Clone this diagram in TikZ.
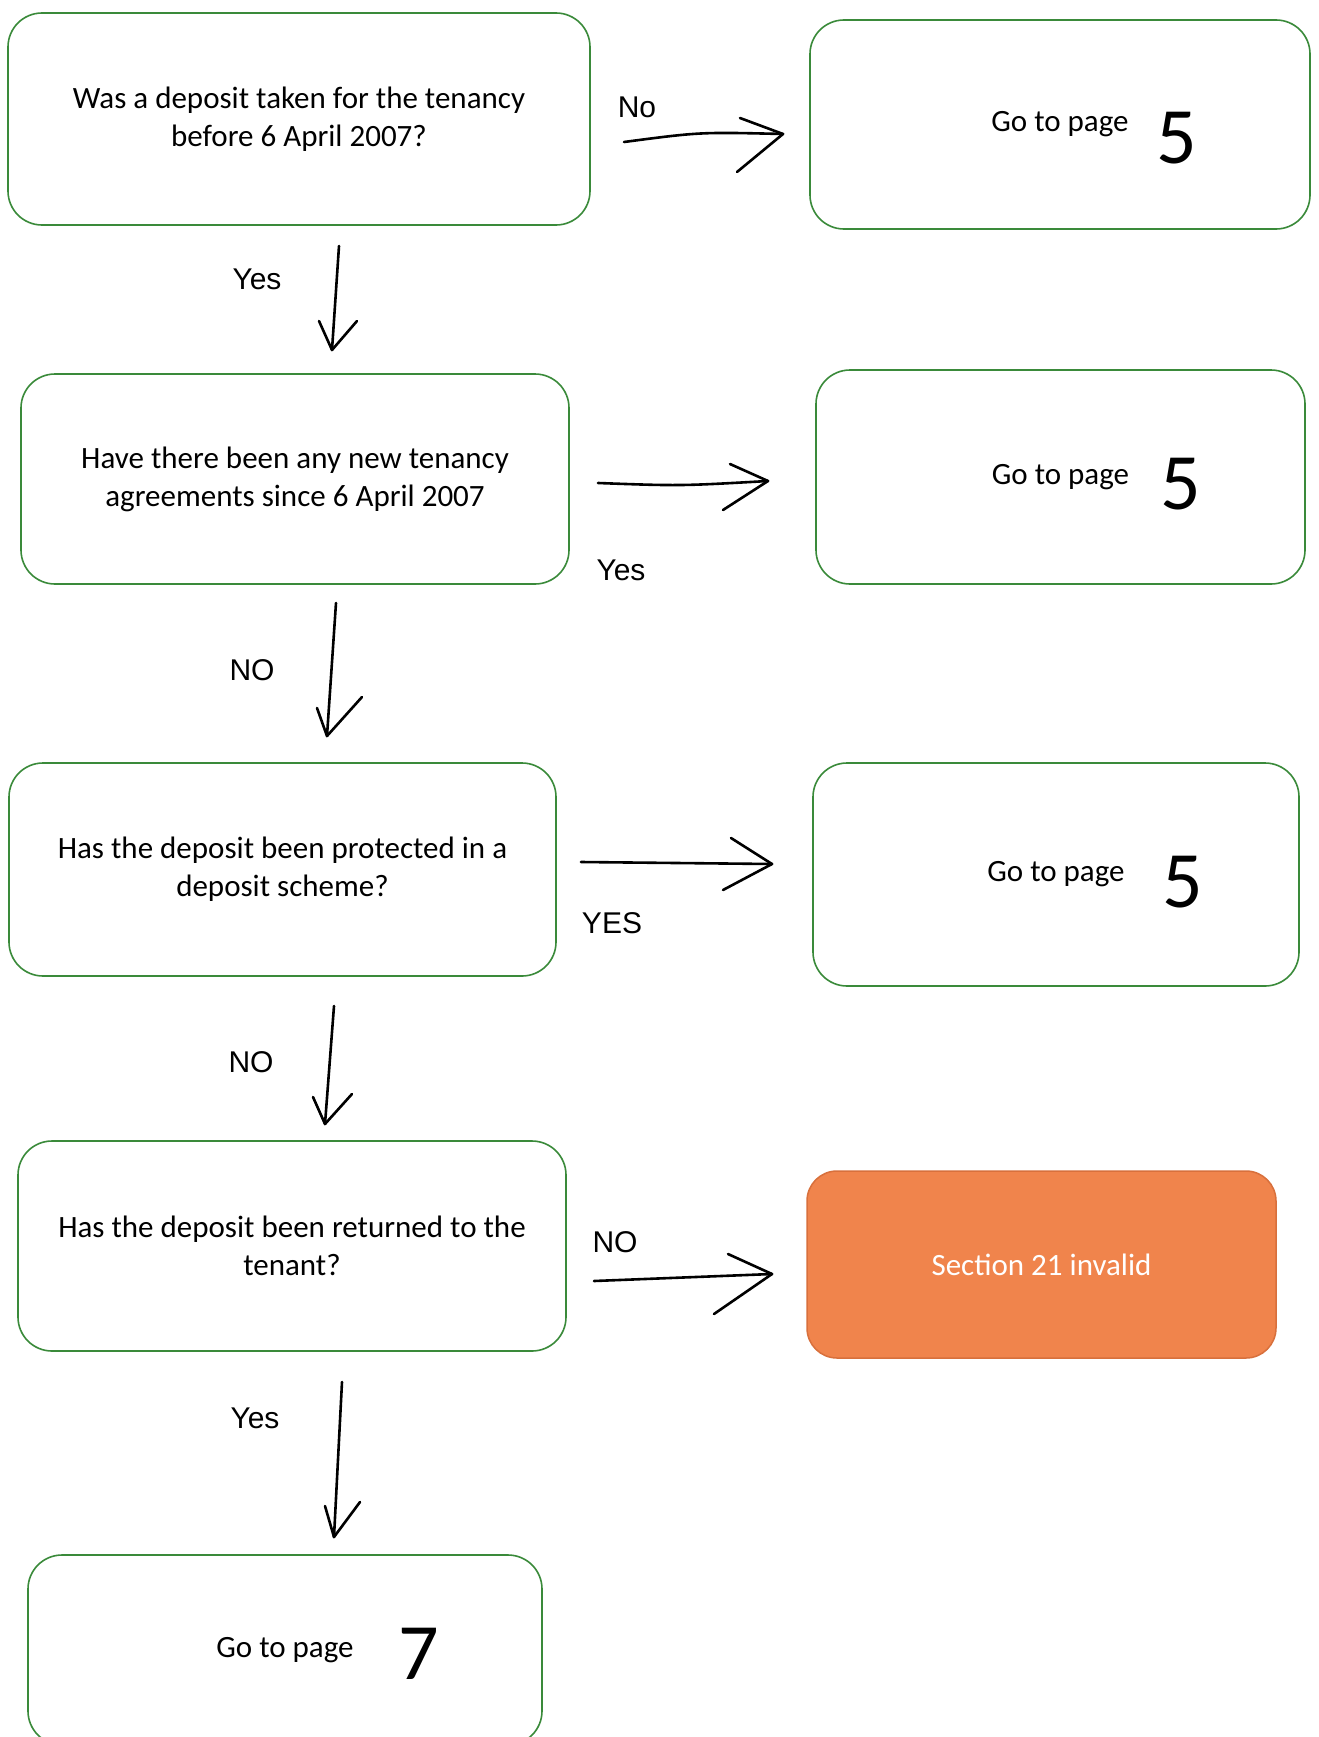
\documentclass[tikz,border=0pt]{standalone}
\usepackage{fontspec}
\setmainfont{Carlito}
\newfontfamily\labfont{Liberation Sans}
\definecolor{boxgreen}{HTML}{3A8A3A}
\definecolor{orfill}{HTML}{F0844C}
\definecolor{ordraw}{HTML}{D8703C}
\begin{document}
\begin{tikzpicture}[x=1pt,y=-1pt,
  box/.style={draw=boxgreen,line width=1.6pt,rounded corners=34pt,fill=white,
    align=center,inner sep=0pt,font=\fontsize{31}{38}\selectfont},
  redbox/.style={draw=ordraw,line width=1.5pt,rounded corners=30pt,fill=orfill,
    align=center,inner sep=0pt,text=white,font=\fontsize{31}{38}\selectfont},
  lbl/.style={font=\labfont\fontsize{30}{36}\selectfont,inner sep=0pt},
  digit/.style={font=\fontsize{80}{86}\selectfont,inner sep=0pt},
  hand/.style={line width=2.6pt,line cap=round,line join=round}]
\useasboundingbox (0,0) rectangle (1318,1737);
\fill[white] (0,0) rectangle (1318,1737);

% boxes
\node[box,minimum width=582pt,minimum height=212pt] (b1) at (299,119)
  {Was a deposit taken for the tenancy\\before 6 April 2007?};
\node[box,minimum width=500pt,minimum height=209pt] (r1) at (1060,124.5) {Go to page};
\node[box,minimum width=548pt,minimum height=210pt] (b2) at (295,479)
  {Have there been any new tenancy\\agreements since 6 April 2007};
\node[box,minimum width=489pt,minimum height=214pt] (r2) at (1060.5,477) {Go to page};
\node[box,minimum width=547pt,minimum height=213pt] (b3) at (282.5,869.5)
  {Has the deposit been protected in a\\deposit scheme?};
\node[box,minimum width=486pt,minimum height=223pt] (r3) at (1056,874.5) {Go to page};
\node[box,minimum width=548pt,minimum height=210pt] (b4) at (292,1246)
  {Has the deposit been returned to the\\tenant?};
\node[redbox,minimum width=469pt,minimum height=187pt] (or) at (1041.5,1264.5) {Section 21 invalid};
\node[box,minimum width=514pt,minimum height=190pt] (b5) at (285,1650) {Go to page};

% handwritten page numbers
\node[digit] (d1) at (1177,138) {5};
\node[digit] (d2) at (1181,484) {5};
\node[digit] (d3) at (1183,882) {5};
\node[digit] (d4) at (419,1654) {7};

% labels
\node[lbl] (l1) at (637,107) {No};
\node[lbl] (l2) at (257,279) {Yes};
\node[lbl] (l3) at (621,570) {Yes};
\node[lbl] (l4) at (252,670) {NO};
\node[lbl] (l5) at (612,923) {YES};
\node[lbl] (l6) at (251,1062) {NO};
\node[lbl] (l7) at (615,1242) {NO};
\node[lbl] (l8) at (255,1418) {Yes};

% arrow 1 : b1 -> r1
\coordinate (a1s) at (624,142); \coordinate (a1e) at (783,134);
\coordinate (a1u) at (740,118); \coordinate (a1l) at (737,172);
\draw[hand] (a1s) .. controls (700,132) .. (a1e);
\draw[hand] (a1u) -- (a1e) -- (a1l);
% arrow 2 : b1 -> b2
\coordinate (a2s) at (339,246); \coordinate (a2e) at (332,350);
\coordinate (a2u) at (319,321); \coordinate (a2l) at (357,321);
\draw[hand] (a2s) -- (a2e);
\draw[hand] (a2u) -- (a2e) -- (a2l);
% arrow 3 : b2 -> r2
\coordinate (a3s) at (598,483); \coordinate (a3e) at (768,481);
\coordinate (a3u) at (730,464); \coordinate (a3l) at (723,510);
\draw[hand] (a3s) .. controls (680,486) .. (a3e);
\draw[hand] (a3u) -- (a3e) -- (a3l);
% arrow 4 : b2 -> b3
\coordinate (a4s) at (336,603); \coordinate (a4e) at (327,736);
\coordinate (a4u) at (317,708); \coordinate (a4l) at (362,697);
\draw[hand] (a4s) -- (a4e);
\draw[hand] (a4u) -- (a4e) -- (a4l);
% arrow 5 : b3 -> r3
\coordinate (a5s) at (581,862); \coordinate (a5e) at (772,864);
\coordinate (a5u) at (731,838); \coordinate (a5l) at (723,890);
\draw[hand] (a5s) -- (a5e);
\draw[hand] (a5u) -- (a5e) -- (a5l);
% arrow 6 : b3 -> b4
\coordinate (a6s) at (334,1006); \coordinate (a6e) at (325,1124);
\coordinate (a6u) at (313,1097); \coordinate (a6l) at (352,1094);
\draw[hand] (a6s) -- (a6e);
\draw[hand] (a6u) -- (a6e) -- (a6l);
% arrow 7 : b4 -> or
\coordinate (a7s) at (594,1281); \coordinate (a7e) at (772,1274);
\coordinate (a7u) at (728,1254); \coordinate (a7l) at (714,1314);
\draw[hand] (a7s) -- (a7e);
\draw[hand] (a7u) -- (a7e) -- (a7l);
% arrow 8 : b4 -> b5
\coordinate (a8s) at (342,1382); \coordinate (a8e) at (334,1537);
\coordinate (a8u) at (325,1506); \coordinate (a8l) at (360,1502);
\draw[hand] (a8s) -- (a8e);
\draw[hand] (a8u) -- (a8e) -- (a8l);
\end{tikzpicture}
\end{document}
